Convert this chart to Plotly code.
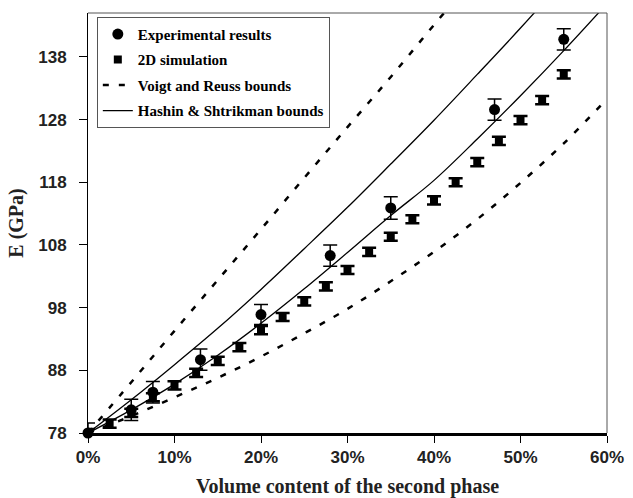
import plotly.graph_objects as go

# ---- data ----
exp_x = [0.0, 0.05, 0.075, 0.13, 0.20, 0.28, 0.35, 0.47, 0.55]
exp_y = [78.0, 81.7, 84.5, 89.7, 96.9, 106.3, 113.9, 129.6, 140.8]
exp_err = [1.6, 1.7, 1.7, 1.7, 1.6, 1.7, 1.8, 1.7, 1.7]

sim_x = [0.0, 0.025, 0.05, 0.075, 0.10, 0.125, 0.15, 0.175, 0.20, 0.225, 0.25,
         0.275, 0.30, 0.325, 0.35, 0.375, 0.40, 0.425, 0.45, 0.475, 0.50,
         0.525, 0.55]
sim_y = [78.0, 79.5, 81.2, 83.7, 85.6, 87.6, 89.5, 91.7, 94.4, 96.5, 99.0,
         101.4, 104.0, 106.9, 109.3, 112.1, 115.1, 118.0, 121.2, 124.6, 127.9,
         131.1, 135.2]
sim_err = [0.65] * len(sim_x)

bound_x = [0.0, 0.05, 0.10, 0.15, 0.20, 0.25, 0.30, 0.35, 0.40, 0.45, 0.50,
           0.55, 0.60]
voigt_y = [78.0, 86.1, 94.3, 102.4, 110.5, 118.7, 126.8, 134.8, 143.1, 151.2,
           159.3, 167.5, 175.6]
reuss_y = [78.0, 80.7, 83.7, 86.8, 90.2, 93.9, 97.8, 102.2, 106.9, 112.1,
           117.9, 124.2, 131.3]
hs_upper_y = [78.0, 83.3, 88.9, 94.7, 100.9, 107.4, 114.0, 120.9, 127.9,
              135.2, 142.6, 150.3, 158.2]
hs_lower_y = [78.0, 81.7, 85.8, 90.4, 95.5, 101.0, 106.8, 112.7, 118.3,
              124.9, 131.8, 139.0, 146.5]

y_ticks = [78, 88, 98, 108, 118, 128, 138]
x_ticks = [0.0, 0.1, 0.2, 0.3, 0.4, 0.5, 0.6]
x_ticktext = ["0%", "10%", "20%", "30%", "40%", "50%", "60%"]

SERIF = "Liberation Serif"
SANS = "Liberation Sans"

fig = go.Figure()

fig.add_trace(go.Scatter(
    x=exp_x, y=exp_y, mode="markers", name="Experimental results",
    legendgroup="a",
    marker=dict(symbol="circle", size=11, color="black"),
    error_y=dict(type="data", array=exp_err, visible=True, color="black",
                 thickness=1.5, width=7),
    cliponaxis=False,
))
fig.add_trace(go.Scatter(
    x=sim_x, y=sim_y, mode="markers", name="2D simulation",
    legendgroup="b",
    marker=dict(symbol="square", size=8, color="black"),
    error_y=dict(type="data", array=sim_err, visible=True, color="black",
                 thickness=2.5, width=7),
    cliponaxis=False,
))
dash_line = dict(color="black", width=2.5, dash="6px,10px", shape="spline")
fig.add_trace(go.Scatter(
    x=bound_x, y=voigt_y, mode="lines", name="Voigt and Reuss bounds",
    legendgroup="c", line=dash_line,
))
fig.add_trace(go.Scatter(
    x=bound_x, y=reuss_y, mode="lines", name="Voigt and Reuss bounds",
    legendgroup="c", showlegend=False, line=dash_line,
))
solid_line = dict(color="black", width=1.3, shape="spline")
fig.add_trace(go.Scatter(
    x=bound_x, y=hs_upper_y, mode="lines", name="Hashin & Shtrikman bounds",
    legendgroup="d", line=solid_line,
))
fig.add_trace(go.Scatter(
    x=bound_x, y=hs_lower_y, mode="lines", name="Hashin & Shtrikman bounds",
    legendgroup="d", showlegend=False, line=solid_line,
))

fig.update_layout(
    width=633, height=498,
    margin=dict(l=88, r=26, t=13, b=65, autoexpand=False),
    paper_bgcolor="white", plot_bgcolor="white",
    showlegend=True,
    legend=dict(
        x=0.017, y=0.991, xanchor="left", yanchor="top",
        bgcolor="white", bordercolor="#555555", borderwidth=1,
        font=dict(family=SERIF, size=15, color="black", weight="bold"),
        traceorder="grouped", tracegroupgap=3, itemwidth=30,
    ),
    xaxis=dict(
        range=[0, 0.6], tickmode="array", tickvals=x_ticks,
        ticktext=x_ticktext, showgrid=False, zeroline=False,
        showline=True, linecolor="black", linewidth=2.5,
        ticks="outside", ticklen=7, tickcolor="black", tickwidth=1,
        tickfont=dict(family=SANS, size=17, color="#222222", weight="bold"),
        title=dict(text="Volume content of the second phase",
                   font=dict(family=SERIF, size=20, color="#222222",
                             weight="bold"),
                   standoff=14),
    ),
    yaxis=dict(
        range=[78, 145], tickmode="array", tickvals=y_ticks,
        showgrid=False, zeroline=False,
        showline=True, linecolor="black", linewidth=1,
        ticks="outside", ticklen=8, tickcolor="black", tickwidth=1,
        ticklabelstandoff=9,
        tickfont=dict(family=SANS, size=17, color="#222222", weight="bold"),
        title=dict(text="E (GPa)",
                   font=dict(family=SERIF, size=20, color="#222222",
                             weight="bold"),
                   standoff=9),
    ),
    shapes=[
        dict(type="line", xref="paper", yref="paper", x0=0, x1=1, y0=1, y1=1,
             line=dict(color="#555555", width=1)),
        dict(type="line", xref="paper", yref="paper", x0=1, x1=1, y0=0, y1=1,
             line=dict(color="#555555", width=1)),
    ],
)

fig.write_html("out.html",
               config={"displayModeBar": False},
               post_script="document.body.style.margin='0';"
                           "document.body.style.padding='0';")
